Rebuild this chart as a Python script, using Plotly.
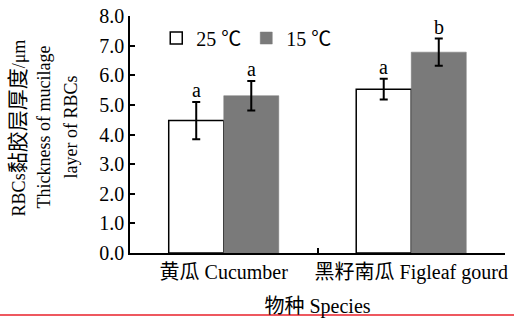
import plotly.graph_objects as go

# Species (categories) and treatments
species = ["黄瓜 Cucumber", "黑籽南瓜 Figleaf gourd"]
temps = ["25 ℃", "15 ℃"]

# Mucilage layer thickness (μm), mean and error
thick_25 = [4.47, 5.53]
err_25 = [0.63, 0.35]
thick_15 = [5.31, 6.78]
err_15 = [0.50, 0.46]

# Significance letters
letters_25 = ["a", "a"]
letters_15 = ["a", "b"]

FONT = "Liberation Serif, Times New Roman, Noto Sans CJK SC, serif"
GRAY = "#7a7a7a"
FS = 20

fig = go.Figure()
fig.add_trace(go.Bar(
    x=species, y=thick_25, name=temps[0],
    marker=dict(color="white", line=dict(color="black", width=1.5)),
    error_y=dict(type="data", array=err_25, color="black", thickness=2, width=4),
))
fig.add_trace(go.Bar(
    x=species, y=thick_15, name=temps[1],
    marker=dict(color=GRAY, line=dict(color=GRAY, width=0.5)),
    error_y=dict(type="data", array=err_15, color="black", thickness=2, width=4),
))

annotations = []
# Letters above error bars; bars are offset half a bar width (~27.5 px) from category centre
for i, sp in enumerate(species):
    annotations.append(dict(x=sp, y=thick_25[i] + err_25[i], text=letters_25[i],
                            xshift=-27.5, yshift=-1, showarrow=False, yanchor="bottom",
                            font=dict(family=FONT, size=FS, color="black")))
    annotations.append(dict(x=sp, y=thick_15[i] + err_15[i], text=letters_15[i],
                            xshift=27.5, yshift=-1, showarrow=False, yanchor="bottom",
                            font=dict(family=FONT, size=FS, color="black")))

# Three-line y-axis title
ytitle_lines = ['RBCs<span style="font-size:21px">黏胶层厚度</span>/μm',
                "Thickness of mucilage", "layer of RBCs"]
plot_w = 375.0
for px, line in zip([18, 44, 71], ytitle_lines):
    annotations.append(dict(x=(px - 130) / plot_w, y=0.53, xref="paper", yref="paper",
                            text=line, textangle=-90, showarrow=False,
                            xanchor="center", yanchor="middle",
                            font=dict(family=FONT, size=18, color="black")))

fig.update_layout(
    width=514, height=320,
    margin=dict(l=130, r=9, t=16, b=67, autoexpand=False),
    paper_bgcolor="white", plot_bgcolor="white",
    barmode="group", bargap=0.413, bargroupgap=0,
    font=dict(family=FONT, size=FS, color="black"),
    showlegend=True,
    legend=dict(orientation="h", x=0.07, y=0.907, xanchor="left", yanchor="middle",
                bgcolor="rgba(0,0,0,0)", font=dict(family=FONT, size=FS),
                itemwidth=30, tracegroupgap=0),
    annotations=annotations,
    shapes=[dict(type="line", xref="paper", yref="paper",
                 x0=-130 / plot_w, x1=1 + 9 / plot_w, y0=-0.2616, y1=-0.2616,
                 line=dict(color="#e8202a", width=1.5))],
)

fig.update_xaxes(
    showline=True, linecolor="black", linewidth=1.5,
    ticks="inside", tickson="boundaries", ticklen=5, tickwidth=1.5, tickcolor="black",
    tickfont=dict(family=FONT, size=FS), tickangle=0, automargin=False,
    title=dict(text="物种 Species", font=dict(family=FONT, size=FS), standoff=16),
    showgrid=False, zeroline=False,
)
fig.update_yaxes(
    range=[0, 8], dtick=1, tickformat=".1f",
    showline=True, linecolor="black", linewidth=1.5,
    ticks="inside", ticklen=5, tickwidth=1.5, tickcolor="black",
    tickfont=dict(family=FONT, size=FS), automargin=False,
    showgrid=False, zeroline=False,
)

fig.write_html("out.html")
